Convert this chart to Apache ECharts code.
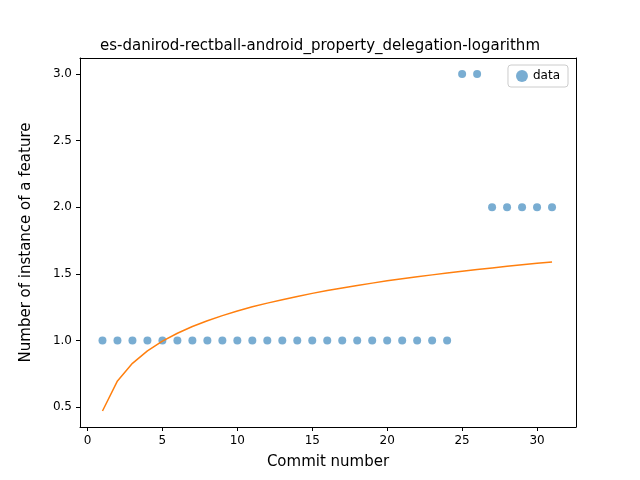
<!DOCTYPE html>
<html><head><meta charset="utf-8">
<script src="https://cdn.jsdelivr.net/npm/echarts@6/dist/echarts.min.js"></script>
<style>html,body{margin:0;padding:0;background:#fff}#c{width:640px;height:480px}</style>
</head><body><div id="c"></div>
<script>
const commits = [1,2,3,4,5,6,7,8,9,10,11,12,13,14,15,16,17,18,19,20,21,22,23,24,25,26,27,28,29,30,31];
const featureCounts = [1,1,1,1,1,1,1,1,1,1,1,1,1,1,1,1,1,1,1,1,1,1,1,1,3,3,2,2,2,2,2];
const fitValues = [0.47,0.696,0.828,0.922,0.995,1.054,1.104,1.148,1.186,1.221,1.252,1.280,1.306,1.330,1.353,1.374,1.394,1.412,1.430,1.447,1.463,1.478,1.492,1.506,1.519,1.532,1.544,1.556,1.568,1.579,1.589];
const xTicks = [0,5,10,15,20,25,30];
const yTicks = [0.5,1.0,1.5,2.0,2.5,3.0];
const font = 'DejaVu Sans';
const chart = echarts.init(document.getElementById('c'));
const frame = {show:true,onZero:false,lineStyle:{color:'#000'}};
chart.setOption({
  animation:false,
  textStyle:{fontFamily:font},
  title:{text:'es-danirod-rectball-android_property_delegation-logarithm',left:'center',top:34,
    textStyle:{fontFamily:font,fontSize:15,fontWeight:'normal',color:'#000'}},
  legend:{right:72,top:65,orient:'vertical',itemWidth:12,itemHeight:12,
    backgroundColor:'#fff',borderColor:'#ccc',borderWidth:1,borderRadius:3,padding:[5,8],
    textStyle:{fontFamily:font,fontSize:12,color:'#000'},data:[{name:'data',icon:'circle'}]},
  grid:{left:80,right:64,top:58,bottom:53},
  xAxis:[{type:'value',min:-0.5,max:32.6,name:'Commit number',nameLocation:'middle',nameGap:28,
    nameTextStyle:{fontFamily:font,fontSize:15,color:'#000'},
    axisLine:frame,splitLine:{show:false},
    axisTick:{customValues:xTicks,length:4,lineStyle:{color:'#000'}},
    axisLabel:{customValues:xTicks,color:'#000',fontSize:12,fontFamily:font}},
    {type:'value',position:'top',min:-0.5,max:32.6,axisLine:frame,axisTick:{show:false},axisLabel:{show:false},splitLine:{show:false}}],
  yAxis:[{type:'value',min:0.35,max:3.12,name:'Number of instance of a feature',nameLocation:'middle',nameGap:46,
    nameTextStyle:{fontFamily:font,fontSize:15,color:'#000'},
    axisLine:frame,splitLine:{show:false},
    axisTick:{show:true,customValues:yTicks,length:4,lineStyle:{color:'#000'}},
    axisLabel:{customValues:yTicks,color:'#000',fontSize:12,fontFamily:font,formatter:v=>v.toFixed(1)}},
    {type:'value',position:'right',min:0.35,max:3.12,axisLine:frame,axisTick:{show:false},axisLabel:{show:false},splitLine:{show:false}}],
  series:[
    {name:'data',type:'scatter',symbolSize:8,itemStyle:{color:'#1f77b4',opacity:0.6},
      data:commits.map((x,i)=>[x,featureCounts[i]])},
    {name:'fit',type:'line',showSymbol:false,lineStyle:{color:'#ff7f0e',width:1.5},itemStyle:{color:'#ff7f0e'},
      data:commits.map((x,i)=>[x,fitValues[i]])}
  ]
});
</script></body></html>
